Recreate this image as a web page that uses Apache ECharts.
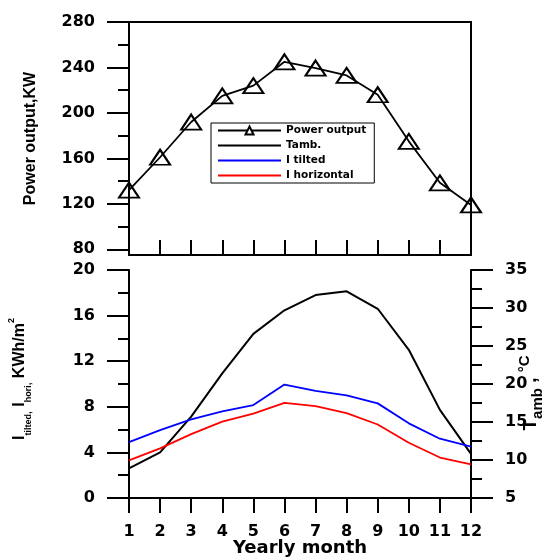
<!DOCTYPE html>
<html>
<head>
<meta charset="utf-8">
<script src="https://cdn.jsdelivr.net/npm/echarts@6/dist/echarts.min.js"></script>
<style>html,body{margin:0;padding:0;background:#fff}#c{width:544px;height:557px}</style>
</head>
<body>
<div id="c"></div>
<script>
const months = ['1','2','3','4','5','6','7','8','9','10','11','12'];
const powerOutput = [132, 161, 192, 215, 224, 245, 239.5, 233, 216, 175, 138.5, 119];
const tAmb = [8.9, 11.0, 15.7, 21.4, 26.6, 29.7, 31.7, 32.2, 29.9, 24.5, 16.6, 10.8];
const iTilted = [4.9, 5.95, 6.9, 7.6, 8.15, 9.95, 9.4, 9.0, 8.3, 6.55, 5.2, 4.5];
const iHorizontal = [3.3, 4.35, 5.6, 6.7, 7.4, 8.35, 8.05, 7.45, 6.45, 4.85, 3.55, 2.95];
const powerTicks = [80, 120, 160, 200, 240, 280];
const powerMinorTicks = [100, 140, 180, 220, 260];

const F = 'DejaVu Sans';
const N = '"Liberation Sans Narrow", "Liberation Sans", Arial';
const black = '#000';
const lbl = {color: black, fontFamily: F, fontWeight: 'bold', fontSize: 16};
const noSym = {color: 'rgba(0,0,0,0)', borderColor: 'rgba(0,0,0,0)', borderWidth: 0, opacity: 0};

const chart = echarts.init(document.getElementById('c'), null, {renderer: 'canvas'});
chart.setOption({
  animation: false,
  backgroundColor: '#fff',
  grid: [
    {left: 129, right: 73, top: 22, height: 233, show: true, borderColor: black, borderWidth: 2,
     backgroundColor: 'transparent', outerBoundsMode: 'none', containLabel: false},
    {left: 129, right: 73, top: 270, height: 228, outerBoundsMode: 'none', containLabel: false}
  ],
  legend: {
    left: 211, top: 123, orient: 'vertical',
    itemWidth: 63, itemHeight: 10, itemGap: 4,
    padding: [2, 8, 2, 6],
    borderColor: black, borderWidth: 1, backgroundColor: '#fff',
    textStyle: {color: black, fontFamily: F, fontWeight: 'bold', fontSize: 10.5},
    data: [
      {name: 'Power output', itemStyle: {color: '#fff', borderColor: black, borderWidth: 2}},
      {name: 'Tamb.', itemStyle: noSym},
      {name: 'I tilted', itemStyle: noSym},
      {name: 'I horizontal', itemStyle: noSym}
    ],
    selectedMode: false
  },
  xAxis: [
    {type: 'category', gridIndex: 0, data: months, boundaryGap: false,
     axisLine: {lineStyle: {color: black, width: 2}},
     axisTick: {inside: true, length: 15, interval: 0, lineStyle: {color: black, width: 2}},
     axisLabel: {show: false}, splitLine: {show: false}},
    {type: 'category', gridIndex: 1, data: months, boundaryGap: false,
     name: 'Yearly month', nameLocation: 'middle', nameGap: 41, nameMoveOverlap: false,
     nameTextStyle: {color: black, fontFamily: F, fontWeight: 'bold', fontSize: 18},
     axisLine: {lineStyle: {color: black, width: 2}},
     axisTick: {length: 15, interval: 0, lineStyle: {color: black, width: 2}},
     axisLabel: Object.assign({margin: 26, interval: 0}, lbl), splitLine: {show: false}}
  ],
  yAxis: [
    {type: 'value', gridIndex: 0, min: 75, max: 280, position: 'left',
     name: 'Power output,KW', nameLocation: 'middle', nameGap: 90, nameRotate: 90, nameMoveOverlap: false,
     nameTextStyle: {color: black, fontFamily: N, fontWeight: 'bold', fontSize: 16},
     axisLine: {show: true, lineStyle: {color: black, width: 2}},
     axisTick: {show: true, length: 22, customValues: powerTicks, lineStyle: {color: black, width: 2}},
     axisLabel: Object.assign({margin: 34, customValues: powerTicks}, lbl),
     splitLine: {show: false}},
    {type: 'value', gridIndex: 0, min: 75, max: 280, position: 'left',
     axisLine: {show: false},
     axisTick: {show: true, length: 11, customValues: powerMinorTicks, lineStyle: {color: black, width: 2}},
     axisLabel: {show: false}, splitLine: {show: false}},
    {type: 'value', gridIndex: 1, min: 0, max: 20, interval: 4, position: 'left',
     name: '{g|}{m|I}{s|tilted}{c|,}{m| I}{s|hori}{c|,}{m| KWh/m}{p|2}',
     nameLocation: 'middle', nameGap: 96, nameRotate: 90, nameMoveOverlap: false,
     nameTextStyle: {color: black, fontFamily: N, fontWeight: 'bold', fontSize: 16,
       rich: {
         g: {width: 10, lineHeight: 10},
         m: {fontFamily: N, fontWeight: 'bold', fontSize: 16, lineHeight: 26, verticalAlign: 'middle', color: black},
         s: {fontFamily: N, fontWeight: 'bold', fontSize: 9, lineHeight: 10, verticalAlign: 'bottom', color: black},
         c: {fontFamily: N, fontWeight: 'bold', fontSize: 10, lineHeight: 14, verticalAlign: 'bottom', color: black},
         p: {fontFamily: N, fontWeight: 'bold', fontSize: 9, lineHeight: 10, verticalAlign: 'top', color: black}
       }},
     axisLine: {show: true, lineStyle: {color: black, width: 2}},
     axisTick: {show: true, length: 22, lineStyle: {color: black, width: 2}},
     minorTick: {show: true, splitNumber: 2, length: 11, lineStyle: {color: black, width: 2}},
     axisLabel: Object.assign({margin: 34}, lbl),
     splitLine: {show: false}, minorSplitLine: {show: false}},
    {type: 'value', gridIndex: 1, min: 5, max: 35, interval: 5, position: 'right',
     name: '{m|T}{s|amb}{m| , }{p|°C}{g|}',
     nameLocation: 'middle', nameGap: 46, nameRotate: 90, nameMoveOverlap: false,
     nameTextStyle: {color: black, fontFamily: N, fontWeight: 'bold', fontSize: 18,
       rich: {
         g: {width: 18, lineHeight: 10},
         m: {fontFamily: N, fontWeight: 'bold', fontSize: 19, lineHeight: 28, verticalAlign: 'middle', color: black},
         s: {fontFamily: N, fontWeight: 'bold', fontSize: 15, lineHeight: 15, verticalAlign: 'bottom', color: black},
         p: {fontFamily: N, fontWeight: 'bold', fontSize: 15, lineHeight: 15, verticalAlign: 'top', color: black}
       }},
     axisLine: {show: true, lineStyle: {color: black, width: 2}},
     axisTick: {show: true, length: 22, lineStyle: {color: black, width: 2}},
     minorTick: {show: true, splitNumber: 2, length: 11, lineStyle: {color: black, width: 2}},
     axisLabel: Object.assign({margin: 34}, lbl),
     splitLine: {show: false}, minorSplitLine: {show: false}}
  ],
  series: [
    {name: 'Power output', type: 'line', xAxisIndex: 0, yAxisIndex: 0, data: powerOutput,
     symbol: 'triangle', symbolSize: [20, 15],
     lineStyle: {color: black, width: 1.8},
     itemStyle: {color: 'rgba(255,255,255,0)', borderColor: black, borderWidth: 2}},
    {name: 'Tamb.', type: 'line', xAxisIndex: 1, yAxisIndex: 3, data: tAmb,
     symbol: 'none', lineStyle: {color: black, width: 2}, itemStyle: {color: black}},
    {name: 'I tilted', type: 'line', xAxisIndex: 1, yAxisIndex: 2, data: iTilted,
     symbol: 'none', lineStyle: {color: '#0000ff', width: 1.8}, itemStyle: {color: '#0000ff'}},
    {name: 'I horizontal', type: 'line', xAxisIndex: 1, yAxisIndex: 2, data: iHorizontal,
     symbol: 'none', lineStyle: {color: '#ff0000', width: 1.8}, itemStyle: {color: '#ff0000'}}
  ]
});
</script>
</body>
</html>
